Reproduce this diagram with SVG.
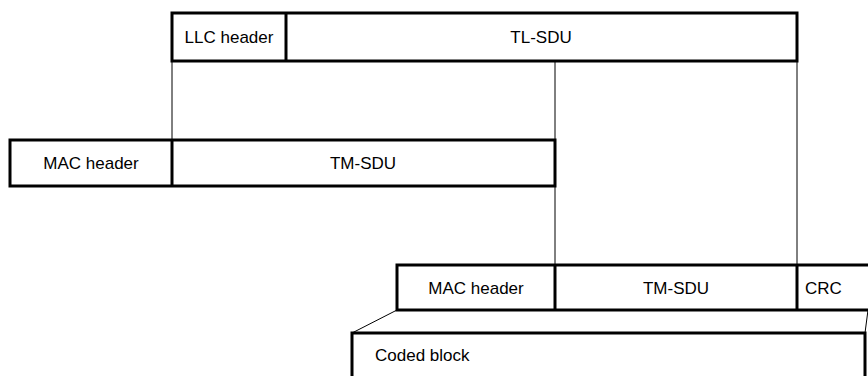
<svg xmlns="http://www.w3.org/2000/svg" width="868" height="376" viewBox="0 0 868 376">
<style>
.box{fill:#fff;stroke:#000;stroke-width:3}
.div{stroke:#000;stroke-width:3}
.con{stroke:#000;stroke-width:1;fill:none}
text{font-family:"Liberation Sans",Arial,sans-serif;font-size:17px;fill:#000}
.c{text-anchor:middle}
</style>
<rect width="868" height="376" fill="#fff"/>
<g id="connectors">
<line class="con" x1="172" y1="61" x2="172" y2="140"/>
<line class="con" x1="555" y1="61" x2="555" y2="265"/>
<line class="con" x1="797" y1="61" x2="797" y2="265"/>
<line class="con" x1="397" y1="310" x2="352" y2="333"/>
<line class="con" x1="868" y1="310" x2="865" y2="333"/>
</g>
<g id="llc-pdu">
<rect class="box" x="172" y="13" width="625" height="48"/>
<line class="div" x1="286" y1="13" x2="286" y2="61"/>
<text x="229" y="43" class="c">LLC header</text>
<text x="541" y="43" class="c">TL-SDU</text>
</g>
<g id="mac-pdu">
<rect class="box" x="10" y="140" width="545" height="46"/>
<line class="div" x1="172" y1="140" x2="172" y2="186"/>
<text x="91" y="169" class="c">MAC header</text>
<text x="363" y="169" class="c">TM-SDU</text>
</g>
<g id="mac-block">
<rect class="box" x="397" y="265" width="480" height="45"/>
<line class="div" x1="555" y1="265" x2="555" y2="310"/>
<line class="div" x1="797" y1="265" x2="797" y2="310"/>
<text x="476" y="294" class="c">MAC header</text>
<text x="676" y="294" class="c">TM-SDU</text>
<text x="805" y="294">CRC</text>
</g>
<g id="coded-block">
<rect class="box" x="352" y="333" width="513" height="60"/>
<text x="375" y="361">Coded block</text>
</g>
</svg>
